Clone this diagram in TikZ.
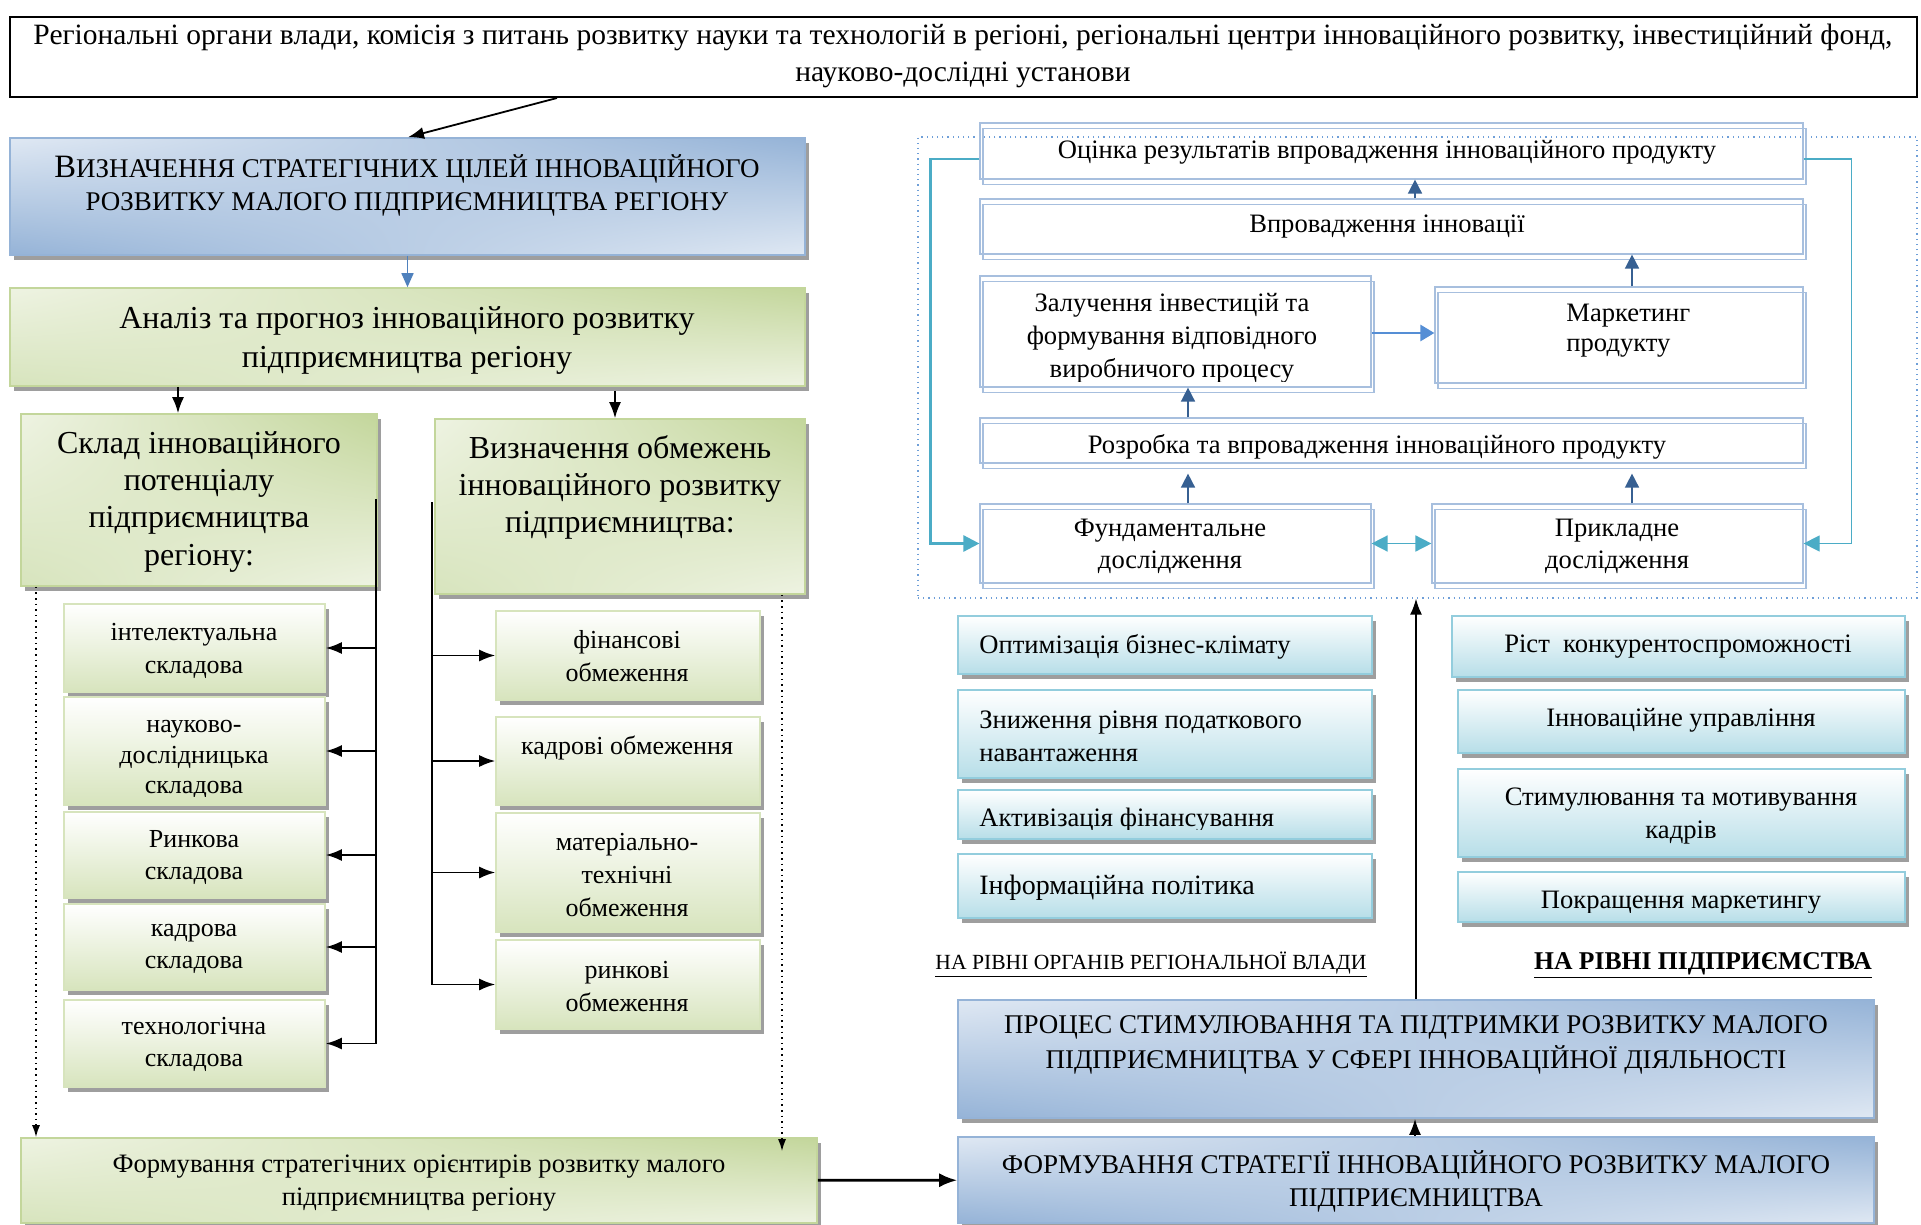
\documentclass[tikz,border=0pt]{standalone}
\usepackage{fontspec}
\setmainfont{Liberation Serif}
\usetikzlibrary{arrows.meta,fit,shadows,shadings,calc}
\newcommand\fsz[2]{\fontsize{#1}{#2}\selectfont}
\definecolor{gD}{HTML}{C3D69B}
\definecolor{gL}{HTML}{EEF3E2}
\definecolor{gM}{HTML}{D7E4BD}
\definecolor{bD}{HTML}{95B3D7}
\definecolor{bL}{HTML}{DFE8F3}
\definecolor{cD}{HTML}{B7DEE8}
\definecolor{cB}{HTML}{93CDDD}
\definecolor{arB}{HTML}{376092}
\definecolor{arL}{HTML}{558ED5}
\definecolor{arM}{HTML}{4F81BD}
\definecolor{tealA}{HTML}{4BACC6}
\definecolor{frameB}{HTML}{A7BFDE}
\definecolor{dotB}{HTML}{6F9FD8}
\begin{document}
\begin{tikzpicture}[x=0.5pt,y=-0.5pt,
  shad/.style={drop shadow={shadow xshift=1.8pt,shadow yshift=-2.6pt,fill=black!38,opacity=1}},
  tbox/.style={draw=black,line width=1pt,fill=white,inner sep=0pt},
  gbig/.style={shad,draw=gD,line width=0.8pt,inner sep=0pt,upper left=gL,lower right=gL,upper right=gD,lower left=gM},
  bbig/.style={shad,draw=bD,line width=0.8pt,inner sep=0pt,upper left=bL,lower right=bL,upper right=bD,lower left=bD},
  gsub/.style={shad,draw=gM,line width=0.8pt,inner sep=0pt,top color=white,bottom color=gM},
  cbox/.style={shad,draw=cB,line width=0.8pt,inner sep=0pt,top color=white,bottom color=cD},
  wbox/.style={draw=frameB,line width=0.6pt,inner sep=0pt,
     general shadow={shadow xshift=1.5pt,shadow yshift=-2.6pt,draw=frameB,line width=0.6pt}},
  txt/.style={inner sep=0pt,align=center,yshift=-1.3pt},
  ltxt/.style={inner sep=0pt,align=left,yshift=-1.3pt},
  blk/.style={-{Latex[length=8pt,width=6pt]},line width=0.9pt},
  ln/.style={line width=0.9pt},
  dotarr/.style={dotted,line width=0.8pt,-{Latex[length=6pt,width=4pt]}},
  barr/.style={draw=arB,line width=0.8pt,-{Triangle[length=7pt,width=7pt]}},
]
\useasboundingbox (0,0) rectangle (1921,1225);
\fill[white] (0,0) rectangle (1921,1225);

% ---------- top box
\node[tbox,fit={(10,17)(1917,97)}] (top) {};
\node[txt,font=\fsz{14.75}{18.5}] (toptxt) at (963,53) {Регіональні органи влади, комісія з питань розвитку науки та технологій в регіоні, регіональні центри інноваційного розвитку, інвестиційний фонд,\\науково-дослідні установи};

% ---------- left column
\node[bbig,fit={(10,138)(805,255)}] (b1) {};
\node[txt,font=\fsz{13.5}{16.5}] (b1t) at (407,183) {{\fsz{16.3}{16.5}В}ИЗНАЧЕННЯ СТРАТЕГІЧНИХ ЦІЛЕЙ ІННОВАЦІЙНОГО\\РОЗВИТКУ МАЛОГО ПІДПРИЄМНИЦТВА РЕГІОНУ};

\node[gbig,fit={(10,288)(805,386)}] (an) {};
\node[txt,font=\fsz{16}{19.5}] (ant) at (407,338) {Аналіз та прогноз інноваційного розвитку\\підприємництва регіону};

\node[gbig,fit={(21,414)(377,586)}] (sk) {};
\node[txt,font=\fsz{16}{18.7}] (skt) at (199,499) {Склад інноваційного\\потенціалу\\підприємництва\\регіону:};

\node[gbig,fit={(435,419)(805,594)}] (ob) {};
\node[txt,font=\fsz{16}{18.5}] (obt) at (620,485) {Визначення обмежень\\інноваційного розвитку\\підприємництва:};

\node[gsub,fit={(64,604)(325,692)}] (i1) {};
\node[gsub,fit={(64,697)(325,805)}] (i2) {};
\node[gsub,fit={(64,812)(325,898)}] (i3) {};
\node[gsub,fit={(64,904)(325,990)}] (i4) {};
\node[gsub,fit={(64,1000)(325,1087)}] (i5) {};
\node[txt,font=\fsz{13}{16.5}] (i1t) at (194,648) {інтелектуальна\\складова};
\begin{scope}
\clip (64,697) rectangle (325,796);
\node[txt,font=\fsz{13}{15.2}] (i2t) at (194,757) {науково-\\дослідницька\\складова};
\end{scope}
\node[txt,font=\fsz{13}{16}] (i3t) at (194,855) {Ринкова\\складова};
\node[txt,font=\fsz{13}{16}] (i4t) at (194,946) {кадрова\\складова};
\node[txt,font=\fsz{13}{16}] (i5t) at (194,1042) {технологічна\\складова};

\node[gsub,fit={(496,611)(760,700)}] (r1) {};
\node[gsub,fit={(496,717)(760,805)}] (r2) {};
\node[gsub,fit={(496,813)(760,932)}] (r3) {};
\node[gsub,fit={(496,940)(760,1029)}] (r4) {};
\node[txt,font=\fsz{13}{16.5}] (r1t) at (627,654) {фінансові\\обмеження};
\node[txt,font=\fsz{13}{16.5}] (r2t) at (627,745) {кадрові обмеження};
\node[txt,font=\fsz{13}{16.5}] (r3t) at (627,872) {матеріально-\\технічні\\обмеження};
\node[txt,font=\fsz{13}{16.5}] (r4t) at (627,984) {ринкові\\обмеження};

\node[gbig,fit={(21,1138)(817,1223)}] (fg) {};
\node[txt,font=\fsz{13.3}{16.5}] (fgt) at (419,1180) {Формування стратегічних орієнтирів розвитку малого\\підприємництва регіону};

% ---------- right bottom
\node[bbig,fit={(958,1000)(1874,1118)}] (pr) {};
\node[txt,font=\fsz{13.5}{17.5}] (prt) at (1416,1042) {ПРОЦЕС СТИМУЛЮВАННЯ ТА ПІДТРИМКИ РОЗВИТКУ МАЛОГО\\ПІДПРИЄМНИЦТВА У СФЕРІ ІННОВАЦІЙНОЇ ДІЯЛЬНОСТІ};
\node[bbig,fit={(958,1137)(1874,1223)}] (fb) {};
\node[txt,font=\fsz{13.5}{16.5}] (fbt) at (1416,1179) {ФОРМУВАННЯ СТРАТЕГІЇ ІННОВАЦІЙНОГО РОЗВИТКУ МАЛОГО\\ПІДПРИЄМНИЦТВА};

% ---------- cyan boxes
\node[cbox,fit={(958,616)(1372,674)}] (c1) {};
\node[cbox,fit={(958,690)(1372,778)}] (c2) {};
\node[cbox,fit={(958,790)(1372,839)}] (c3) {};
\node[cbox,fit={(958,854)(1372,918)}] (c4) {};
\node[ltxt,font=\fsz{13.3}{16.5},anchor=west] (c1t) at (979,644) {Оптимізація бізнес-клімату};
\node[ltxt,font=\fsz{13.3}{16.5},anchor=west] (c2t) at (979,734) {Зниження рівня податкового\\навантаження};
\begin{scope}
\clip (958,790) rectangle (1372,829);
\node[ltxt,font=\fsz{13.3}{16.5},anchor=west] (c3t) at (979,818) {Активізація фінансування};
\end{scope}
\node[ltxt,font=\fsz{14}{16.5},anchor=west] (c4t) at (979,885) {Інформаційна політика};

\node[cbox,fit={(1452,616)(1905,677)}] (d1) {};
\node[cbox,fit={(1458,690)(1905,753)}] (d2) {};
\node[cbox,fit={(1458,769)(1905,857)}] (d3) {};
\node[cbox,fit={(1458,872)(1905,922)}] (d4) {};
\node[txt,font=\fsz{13.3}{16.5}] (d1t) at (1678,644) {Ріст\ \ конкурентоспроможності};
\node[txt,font=\fsz{13.3}{16.5}] (d2t) at (1681,718) {Інноваційне управління};
\node[txt,font=\fsz{13.3}{16.5}] (d3t) at (1681,813) {Стимулювання та мотивування\\кадрів};
\begin{scope}
\clip (1458,872) rectangle (1905,912);
\node[txt,font=\fsz{13.3}{16.5}] (d4t) at (1681,900) {Покращення маркетингу};
\end{scope}

\node[txt,font=\fsz{10.8}{12}] (lab1) at (1151,962) {\underline{НА РІВНІ ОРГАНІВ РЕГІОНАЛЬНОЇ ВЛАДИ}};
\node[txt,font=\bfseries\fsz{12.8}{14}] (lab2) at (1703,963) {\underline{НА РІВНІ ПІДПРИЄМСТВА}};

% ---------- top right region
\node[draw=dotB,dotted,line width=0.6pt,inner sep=0pt,fit={(918,137)(1917,598)}] (reg) {};
\node[wbox,fit={(980,123)(1803,179)}] (oc) {};
\node[wbox,fit={(980,199)(1803,254)}] (vp) {};
\node[wbox,fit={(980,276)(1371,387)}] (zl) {};
\node[wbox,fit={(1435,287)(1803,383)}] (mk) {};
\node[wbox,fit={(980,418)(1803,463)}] (rz) {};
\node[wbox,fit={(980,504)(1371,583)}] (fd) {};
\node[wbox,fit={(1432,504)(1803,583)}] (pk) {};
\node[txt,font=\fsz{13.3}{16.5}] (oct) at (1387,150) {Оцінка результатів впровадження інноваційного продукту};
\node[txt,font=\fsz{13.3}{16.5}] (vpt) at (1387,224) {Впровадження інновації};
\begin{scope}
\clip (980,276) rectangle (1371,381);
\node[txt,font=\fsz{13.3}{16.5}] (zlt) at (1172,336) {Залучення інвестицій та\\формування відповідного\\виробничого процесу};
\end{scope}
\node[ltxt,font=\fsz{13.3}{15}] (mkt) at (1566,328) [anchor=west] {Маркетинг\\продукту};
\begin{scope}
\clip (980,418) rectangle (1803,458);
\node[txt,font=\fsz{13.3}{16.5}] (rzt) at (1377,444) {Розробка та впровадження інноваційного продукту};
\end{scope}
\node[txt,font=\fsz{13.3}{16}] (fdt) at (1170,544) {Фундаментальне\\дослідження};
\node[txt,font=\fsz{13.3}{16}] (pkt) at (1617,544) {Прикладне\\дослідження};

% ---------- connectors left
\draw[blk] (top.south -| 557,0) -- (b1.north -| 408,0);
\draw[draw=arM,line width=0.8pt,-{Triangle[length=7pt,width=6pt]}] (b1.south) -- (an.north);
\draw[blk] (an.south -| 178,0) -- (sk.north -| 178,0);
\draw[blk] ($(an.south -| 615,0)+(0,-2pt)$) -- (ob.north -| 615,0);

\coordinate (vl) at (376,499);
\draw[ln] (vl) -- (vl |- i5.east);
\foreach \n in {i1,i2,i3,i4,i5} \draw[blk] (\n.east -| vl) -- (\n.east);
\coordinate (vr) at (432,502);
\draw[ln] (vr) -- (vr |- r4.west);
\foreach \n in {r1,r2,r3,r4} \draw[blk] (\n.west -| vr) -- (\n.west);

\draw[dotarr] (sk.south -| 36,0) -- (fg.north -| 36,0);
\draw[dotarr,shorten >=-7pt] (ob.south -| 782,0) -- (fg.north -| 782,0);

\draw[-{Latex[length=9pt,width=7pt]},line width=1.4pt] (fg) -- (fb);
\draw[blk] (fb.north -| 1415,0) -- (pr.south -| 1415,0);
\draw[blk] (pr.north) -- (reg.south -| pr.north);

% ---------- connectors top right
\draw[barr] (vp.north -| 1415,0) -- (oc.south -| 1415,0);
\draw[barr] (mk.north -| 1632,0) -- (vp.south -| 1632,0);
\draw[draw=arL,line width=1.3pt,-{Triangle[length=7pt,width=8pt]}] (zl.east |- 0,333) -- (mk.west |- 0,333);
\draw[barr] (rz.north -| 1188,0) -- (zl.south -| 1188,0);
\draw[barr,shorten >=5pt] (fd.north -| 1188,0) -- (rz.south -| 1188,0);
\draw[barr,shorten >=5pt] (pk.north -| 1632,0) -- (rz.south -| 1632,0);
\draw[draw=tealA,line width=0.8pt,{Triangle[length=8pt,width=8pt]}-{Triangle[length=8pt,width=8pt]}] (fd.east) -- (pk.west);
\draw[draw=tealA,line width=1.3pt,-{Triangle[length=8pt,width=8pt]}] (oc.west |- 0,159) -- ++(-49,0) |- (fd.west);
\draw[draw=tealA,line width=0.6pt,-{Triangle[length=8pt,width=8pt]}] (oc.east |- 0,159) -- ++(48,0) |- (pk.east);
\end{tikzpicture}
\end{document}
